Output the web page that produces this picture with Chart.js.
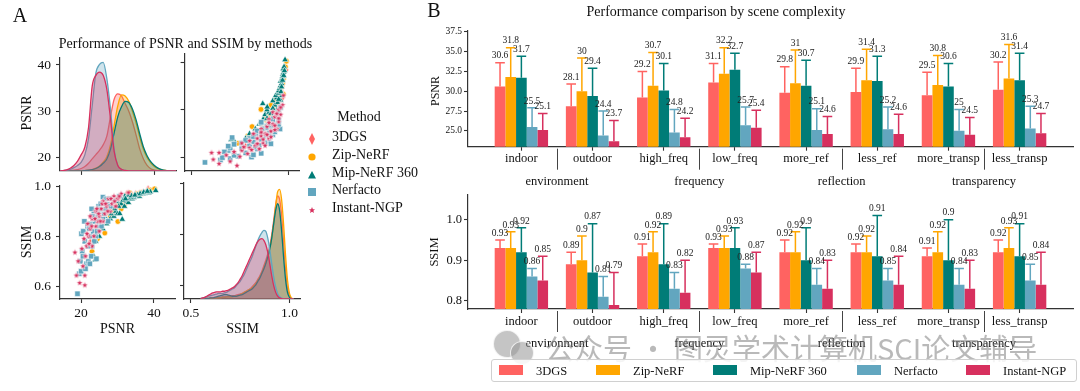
<!DOCTYPE html>
<html><head><meta charset="utf-8">
<script src="https://cdn.jsdelivr.net/npm/chart.js@4.4.0/dist/chart.umd.min.js"></script>
<style>
html,body{margin:0;padding:0;background:#fff;}
#root{position:relative;width:1080px;height:391px;overflow:hidden;font-family:"Liberation Serif","Times New Roman",serif;color:#111;}
canvas{position:absolute;}
.t{position:absolute;white-space:nowrap;line-height:1;}
#legB{position:absolute;border:1px solid #d0d0d0;border-radius:3px;background:rgba(255,255,255,0.85);}
.sw{position:absolute;width:24px;height:10px;}
#wm{position:absolute;left:0;top:0;width:1080px;height:391px;pointer-events:none;}
</style></head>
<body><div id="root"><div id="wm"></div></div>
<script>
// ---------- shared ----------
const methods = ['3DGS', 'Zip-NeRF', 'Mip-NeRF 360', 'Nerfacto', 'Instant-NGP'];
const colors = ['#FF6361', '#FFA600', '#007C77', '#62A6BF', '#D7305E'];

// ---------- Panel B data ----------
const categories = ['indoor', 'outdoor', 'high_freq', 'low_freq', 'more_ref', 'less_ref', 'more_transp', 'less_transp'];
const groups = ['environment', 'frequency', 'reflection', 'transparency'];
const psnr3DGS = [30.6, 28.1, 29.2, 31.1, 29.8, 29.9, 29.5, 30.2];
const psnrZip = [31.8, 30, 30.7, 32.2, 31, 31.4, 30.8, 31.6];
const psnrMip = [31.7, 29.4, 30.1, 32.7, 30.7, 31.3, 30.6, 31.4];
const psnrNerf = [25.5, 24.4, 24.8, 25.7, 25.1, 25.2, 25, 25.3];
const psnrInst = [25.1, 23.7, 24.2, 25.4, 24.6, 24.6, 24.5, 24.7];
const psnrErr3DGS = [3.0, 2.8, 3.3, 2.4, 3.3, 3.0, 2.9, 3.5];
const psnrErrZip = [3.7, 4.2, 4.2, 3.3, 4.2, 3.9, 3.7, 4.3];
const psnrErrMip = [2.7, 3.5, 3.4, 2.1, 3.2, 3.1, 2.9, 3.4];
const psnrErrNerf = [2.4, 3.1, 2.9, 2.3, 2.7, 2.8, 2.7, 2.8];
const psnrErrInst = [2.1, 2.6, 2.4, 2.2, 2.2, 2.5, 2.2, 2.5];
const ssim3DGS = [0.93, 0.89, 0.91, 0.93, 0.92, 0.92, 0.91, 0.92];
const ssimZip = [0.93, 0.9, 0.92, 0.93, 0.92, 0.92, 0.92, 0.93];
const ssimMip = [0.92, 0.87, 0.89, 0.93, 0.9, 0.91, 0.9, 0.91];
const ssimNerf = [0.86, 0.81, 0.83, 0.88, 0.84, 0.85, 0.84, 0.85];
const ssimInst = [0.85, 0.79, 0.82, 0.87, 0.83, 0.84, 0.83, 0.84];
const ssimErr3DGS = [0.02, 0.03, 0.03, 0.01, 0.03, 0.02, 0.02, 0.03];
const ssimErrZip = [0.04, 0.06, 0.05, 0.03, 0.05, 0.04, 0.05, 0.05];
const ssimErrMip = [0.06, 0.12, 0.10, 0.05, 0.08, 0.10, 0.10, 0.08];
const ssimErrNerf = [0.02, 0.05, 0.04, 0.01, 0.04, 0.03, 0.04, 0.04];
const ssimErrInst = [0.06, 0.08, 0.08, 0.05, 0.07, 0.07, 0.07, 0.08];
const psnrTicks = [25, 27.5, 30, 32.5, 35, 37.5];
const ssimTicks = [0.8, 0.9, 1.0];

// ---------- Panel A data ----------
const kdePsnrGrid = [14,15,16,17,18,19,20,21,22,23,24,25,26,27,28,29,30,31,32,33,34,35,36,37,38,39,40,41,42,43,44,45,46];
const kdePsnr3DGS = [0,0,0,0.003,0.006,0.012,0.022,0.04,0.07,0.11,0.15,0.19,0.24,0.32,0.5,0.66,0.71,0.69,0.62,0.55,0.45,0.33,0.2,0.11,0.05,0.02,0.008,0.002,0,0,0,0,0];
const kdePsnrZip = [0,0,0,0,0,0,0,0.003,0.006,0.012,0.025,0.045,0.08,0.13,0.24,0.42,0.6,0.7,0.69,0.64,0.55,0.44,0.31,0.2,0.125,0.075,0.04,0.02,0.01,0.004,0.001,0,0];
const kdePsnrMip = [0,0,0,0,0,0,0,0.003,0.006,0.012,0.022,0.04,0.07,0.11,0.2,0.35,0.5,0.59,0.64,0.63,0.57,0.47,0.34,0.22,0.14,0.085,0.05,0.025,0.012,0.005,0.002,0,0];
const kdePsnrNerf = [0,0.002,0.006,0.015,0.03,0.05,0.08,0.15,0.3,0.6,0.9,0.98,1.0,0.85,0.57,0.2,0.05,0.015,0.004,0,0,0,0,0,0,0,0,0,0,0,0,0,0];
const kdePsnrInst = [0,0.003,0.01,0.025,0.05,0.09,0.15,0.22,0.4,0.78,0.88,0.91,0.88,0.75,0.48,0.18,0.05,0.015,0.004,0,0,0,0,0,0,0,0,0,0,0,0,0,0];

const kdeSsimGrid = [0.55,0.56,0.57,0.58,0.59,0.60,0.61,0.62,0.63,0.64,0.65,0.66,0.67,0.68,0.69,0.70,0.71,0.72,0.73,0.74,0.75,0.76,0.77,0.78,0.79,0.80,0.81,0.82,0.83,0.84,0.85,0.86,0.87,0.88,0.89,0.90,0.91,0.92,0.93,0.94,0.95,0.96,0.97,0.98,0.99,1.00,1.01,1.02];
const kdeSsim3DGS = [0,0,0.005,0.005,0.005, 0.01,0.01,0.01,0.01,0.015, 0.015,0.02,0.02,0.02,0.025, 0.025,0.03,0.03,0.035,0.04, 0.045,0.05,0.06,0.07,0.08, 0.09,0.11,0.13,0.15,0.18, 0.21,0.25,0.3,0.35,0.41, 0.48,0.58,0.71,0.85,0.93, 0.9,0.76,0.52,0.27,0.1, 0.03,0.005,0];
const kdeSsimZip = [0,0,0,0.005,0.005, 0.005,0.005,0.01,0.01,0.01, 0.01,0.015,0.015,0.02,0.02, 0.02,0.02,0.025,0.025,0.03, 0.04,0.05,0.06,0.07,0.08, 0.09,0.1,0.12,0.14,0.17, 0.2,0.24,0.28,0.33,0.38, 0.45,0.55,0.68,0.84,0.97, 0.99,0.9,0.68,0.4,0.17, 0.05,0.01,0];
const kdeSsimMip = [0,0,0,0.005,0.005, 0.01,0.01,0.015,0.02,0.025, 0.03,0.035,0.04,0.04,0.035, 0.03,0.025,0.025,0.025,0.03, 0.035,0.04,0.05,0.06,0.07, 0.08,0.09,0.11,0.13,0.16, 0.19,0.23,0.27,0.32,0.38, 0.45,0.55,0.68,0.8,0.86, 0.8,0.62,0.38,0.18,0.06, 0.015,0,0];
const kdeSsimNerf = [0.005,0.01,0.015,0.02,0.025, 0.03,0.035,0.04,0.045,0.05, 0.05,0.05,0.055,0.06,0.07, 0.08,0.09,0.1,0.12,0.14, 0.16,0.19,0.22,0.26,0.3, 0.34,0.38,0.43,0.48,0.53, 0.57,0.6,0.62,0.61,0.55, 0.45,0.32,0.2,0.11,0.05, 0.02,0.008,0.003,0,0, 0,0,0];
const kdeSsimInst = [0.005,0.01,0.015,0.025,0.035, 0.045,0.055,0.06,0.065,0.065, 0.065,0.07,0.07,0.075,0.08, 0.09,0.1,0.11,0.13,0.15, 0.18,0.21,0.25,0.29,0.33, 0.37,0.41,0.45,0.49,0.52, 0.54,0.545,0.53,0.49,0.42, 0.32,0.21,0.12,0.06,0.025, 0.01,0.003,0,0,0, 0,0,0];

const ptPsnr3DGS = [21.0,22.5,24.0,25.5,26.0,26.5,27.0,27.5,28.5,29.0,29.5,30.0,30.5,31.0,31.5,32.0,32.5,33.0,34.0,35.0,36.0,37.0,38.4,39.0];
const ptSsim3DGS = [0.72,0.78,0.82,0.85,0.90,0.87,0.92,0.89,0.91,0.93,0.95,0.92,0.94,0.95,0.93,0.955,0.97,0.96,0.965,0.97,0.972,0.975,0.99,0.98];
const ptPsnrZip = [23.0,24.5,26.5,27.0,28.0,28.5,29.0,29.5,30.0,30.1,30.5,31.0,31.5,32.0,32.5,33.3,33.5,34.0,34.5,35.0,35.5,36.0,36.5,37.0,38.0,39.0,40.2];
const ptSsimZip = [0.74,0.79,0.813,0.86,0.88,0.91,0.90,0.94,0.93,0.859,0.92,0.91,0.94,0.93,0.95,0.974,0.96,0.955,0.96,0.965,0.97,0.968,0.975,0.972,0.978,0.985,0.99];
const ptPsnrMip = [22.0,23.5,23.8,24.0,25.0,26.0,26.5,27.0,27.5,28.0,28.5,29.0,29.5,30.0,30.0,30.6,31.0,31.3,31.9,32.0,32.5,33.0,33.0,33.5,34.0,34.5,35.1,35.5,36.0,36.5,37.0,37.5,37.9,38.6,39.0,40.5,25.5,27.2,28.2,29.2,30.3,31.5,32.2,33.8,34.8,36.2,37.2,38.2];
const ptSsimMip = [0.70,0.72,0.705,0.78,0.80,0.83,0.88,0.85,0.90,0.87,0.92,0.88,0.90,0.89,0.94,0.891,0.93,0.868,0.92,0.96,0.94,0.935,0.965,0.95,0.95,0.955,0.96,0.965,0.96,0.969,0.97,0.972,0.976,0.974,0.978,0.983,0.84,0.86,0.89,0.91,0.92,0.945,0.95,0.962,0.965,0.97,0.976,0.98];
const ptPsnrNerf = [19.0,19.5,20.0,19.8,20.3,20.1,20.6,21.0,21.5,22.0,22.4,22.8,23.0,22.5,21.8,22.6,23.3,23.8,24.2,24.0,24.5,25.0,25.6,25.2,26.0,26.5,27.4,27.2,28.0,28.8,29.5,30.5,24.8,23.5,26.0,27.0,20.5,21.2,21.9,22.2,23.1,23.6,24.4,24.9,25.4,26.3,26.8,27.8,20.9,22.9,24.6];
const ptSsimNerf = [0.57,0.65,0.66,0.70,0.74,0.81,0.82,0.78,0.69,0.70,0.69,0.72,0.76,0.80,0.84,0.85,0.82,0.86,0.71,0.80,0.88,0.84,0.84,0.90,0.87,0.91,0.86,0.93,0.92,0.94,0.95,0.96,0.92,0.90,0.957,0.95,0.72,0.67,0.76,0.83,0.88,0.78,0.82,0.86,0.93,0.89,0.91,0.95,0.86,0.91,0.90];
const ptPsnrInst = [18.3,18.7,19.6,21.0,21.0,20.5,21.2,21.5,20.8,22.0,21.8,22.5,23.0,22.5,23.5,24.0,24.5,25.0,25.5,24.0,26.0,26.5,27.0,26.0,27.5,28.0,28.5,29.0,30.0,31.0,29.5,23.0,25.0,33.0,19.2,20.2,21.6,22.2,22.9,23.8,24.3,25.3,25.8,26.7,27.3,28.2,29.2,30.5,24.8];
const ptSsimInst = [0.735,0.643,0.613,0.604,0.643,0.68,0.72,0.76,0.79,0.80,0.85,0.83,0.87,0.88,0.80,0.84,0.86,0.88,0.91,0.90,0.86,0.89,0.92,0.94,0.95,0.90,0.93,0.96,0.95,0.97,0.92,0.76,0.82,0.975,0.70,0.75,0.81,0.77,0.84,0.87,0.91,0.86,0.93,0.93,0.90,0.95,0.94,0.96,0.89];
const pairPsnrTicks = [20, 30, 40];
const pairPsnrXTicks = [20, 40];
const pairSsimTicks = [0.6, 0.8, 1.0];
const pairSsimXTicks = [0.5, 1.0];

// ---------- setup ----------
const SERIF = '"Liberation Serif","Times New Roman",serif';
Chart.defaults.font.family = SERIF;
Chart.defaults.color = '#111';
Chart.defaults.animation = false;
const root = document.getElementById('root');

function rgba(hex, a) {
  const n = parseInt(hex.slice(1), 16);
  return `rgba(${(n >> 16) & 255},${(n >> 8) & 255},${n & 255},${a})`;
}
function mk(left, top, w, h) {
  const c = document.createElement('canvas');
  c.width = w; c.height = h;
  Object.assign(c.style, {left: left + 'px', top: top + 'px', width: w + 'px', height: h + 'px'});
  root.insertBefore(c, document.getElementById('wm'));
  return c;
}
function txt(s, x, y, size, o = {}) {
  const d = document.createElement('div');
  d.className = 't'; d.textContent = s;
  d.style.fontSize = size + 'px';
  d.style.left = x + 'px'; d.style.top = y + 'px';
  const tx = o.align === 'left' ? '0' : o.align === 'right' ? '-100%' : '-50%';
  d.style.transform = `translate(${tx},-50%)` + (o.rot ? ` rotate(${o.rot}deg)` : '');
  if (o.color) d.style.color = o.color;
  if (o.family) d.style.fontFamily = o.family;
  (o.parent || root).appendChild(d);
  return d;
}
const fixSize = n => s => { if (s.isHorizontal()) s.height = n; else s.width = n; };
const setTicks = arr => s => { s.ticks = arr.map(v => ({value: v})); };
function axis(min, max, tickVals, size, showLabels, fontSize, fmt, pad) {
  return {
    type: 'linear', min, max, offset: false,
    afterBuildTicks: setTicks(tickVals),
    afterFit: fixSize(size),
    grid: {display: true, offset: false, drawOnChartArea: false, drawTicks: true, tickLength: 4, tickWidth: 1.1, tickColor: '#333'},
    border: {display: true, color: '#333', width: 1.2},
    ticks: {display: showLabels, font: {size: fontSize}, padding: pad === undefined ? 2 : pad, color: '#111', autoSkip: false, maxRotation: 0,
      callback: fmt || (v => String(v))}
  };
}
const baseOpts = (padding) => ({
  responsive: false, devicePixelRatio: 1, animation: false,
  layout: {padding},
  plugins: {legend: {display: false}, tooltip: {enabled: false}}
});

// marker images
function markerImg(kind, color, r) {
  const s = Math.ceil(2 * r + 3);
  const c = document.createElement('canvas'); c.width = s; c.height = s;
  const g = c.getContext('2d'); const m = s / 2;
  g.beginPath();
  if (kind === 'star') {
    for (let i = 0; i < 10; i++) {
      const a = -Math.PI / 2 + i * Math.PI / 5, rr = i % 2 ? r * 0.45 : r;
      g.lineTo(m + rr * Math.cos(a), m + rr * Math.sin(a));
    }
  } else if (kind === 'thin') {
    g.moveTo(m, m - r); g.lineTo(m + r * 0.55, m); g.lineTo(m, m + r); g.lineTo(m - r * 0.55, m);
  }
  g.closePath(); g.fillStyle = color; g.fill();
  g.strokeStyle = '#fff'; g.lineWidth = 0.6; g.stroke();
  return c;
}
const ptStyles = [markerImg('thin', colors[0], 4), 'circle', 'triangle', 'rect', markerImg('star', colors[4], 3.4)];
const ptRadius = [4, 2.8, 3.8, 3.8, 3.4];
const ptPsnr = [ptPsnr3DGS, ptPsnrZip, ptPsnrMip, ptPsnrNerf, ptPsnrInst];
const ptSsim = [ptSsim3DGS, ptSsimZip, ptSsimMip, ptSsimNerf, ptSsimInst];
const kdePsnr = [kdePsnr3DGS, kdePsnrZip, kdePsnrMip, kdePsnrNerf, kdePsnrInst];
const kdeSsim = [kdeSsim3DGS, kdeSsimZip, kdeSsimMip, kdeSsimNerf, kdeSsimInst];

function kdeSets(grid, vals) {
  return methods.map((m, i) => ({
    label: m, data: grid.map((x, k) => ({x, y: vals[i][k]})), yAxisID: 'yd',
    borderColor: colors[i], backgroundColor: rgba(colors[i], 0.3), fill: 'origin',
    pointRadius: 0, borderWidth: 1.3, cubicInterpolationMode: 'monotone', order: 4 - i
  }));
}
function scatterSets(xs, ys) {
  return methods.map((m, i) => ({
    label: m, data: xs[i].map((x, k) => ({x, y: ys[i][k]})),
    pointStyle: ptStyles[i], pointRadius: ptRadius[i], backgroundColor: colors[i],
    borderColor: '#fff', borderWidth: 0.6, order: 4 - i
  }));
}
const fmt1 = v => v.toFixed(1);

// ---------- Panel A charts ----------
new Chart(mk(0, 44, 180, 140), {
  type: 'line',
  data: {datasets: kdeSets(kdePsnrGrid, kdePsnr)},
  options: Object.assign(baseOpts({left: 0, top: 10, right: 4, bottom: 7}), {
    scales: {
      x: axis(14.2, 45.9, pairPsnrXTicks, 6, false, 13),
      y: axis(17.2, 41.7, pairPsnrTicks, 60, true, 13.5, null, 5),
      yd: {type: 'linear', display: false, min: 0, max: 1.048}
    }
  })
});
new Chart(mk(180, 44, 124, 140), {
  type: 'scatter',
  data: {datasets: scatterSets(ptSsim, ptPsnr)},
  options: Object.assign(baseOpts({left: 0, top: 10, right: 3.3, bottom: 7}), {
    scales: {
      x: axis(0.465, 1.057, pairSsimXTicks, 6, false, 13),
      y: axis(17.2, 41.7, pairPsnrTicks, 4, false, 13)
    }
  })
});
new Chart(mk(0, 172, 180, 170), {
  type: 'scatter',
  data: {datasets: scatterSets(ptPsnr, ptSsim)},
  options: Object.assign(baseOpts({left: 0, top: 10.7, right: 4, bottom: 21}), {
    scales: {
      x: axis(14.2, 45.9, pairPsnrXTicks, 22, true, 13.5),
      y: axis(0.549, 1.005, pairSsimTicks, 60, true, 13.5, fmt1, 5)
    }
  })
});
new Chart(mk(180, 172, 124, 170), {
  type: 'line',
  data: {datasets: kdeSets(kdeSsimGrid, kdeSsim)},
  options: Object.assign(baseOpts({left: 0, top: 10.7, right: 3.3, bottom: 21}), {
    scales: {
      x: axis(0.465, 1.057, pairSsimXTicks, 22, true, 13.5, fmt1),
      y: axis(0.549, 1.005, pairSsimTicks, 4, false, 13),
      yd: {type: 'linear', display: false, min: 0, max: 1.05}
    }
  })
});

// ---------- Panel B charts ----------
const barDecor = {
  id: 'barDecor',
  afterDatasetsDraw(chart, args, opts) {
    const {ctx} = chart; const xS = chart.scales.x, yS = chart.scales.y;
    const labels = [];
    ctx.save();
    chart.data.datasets.forEach((ds, di) => {
      chart.getDatasetMeta(di).data.forEach((bar, j) => {
        const v = ds.data[j].y, e = opts.errors[di][j];
        const yTop = yS.getPixelForValue(v + e);
        const half = bar.width * 0.45;
        ctx.strokeStyle = ds.backgroundColor; ctx.lineWidth = 1.5;
        ctx.beginPath();
        ctx.moveTo(bar.x, bar.y); ctx.lineTo(bar.x, yTop);
        ctx.moveTo(bar.x - half, yTop); ctx.lineTo(bar.x + half, yTop);
        ctx.stroke();
        labels.push([String(v), bar.x, yTop - 2]);
      });
    });
    ctx.fillStyle = '#222'; ctx.font = '9.5px ' + SERIF;
    ctx.textAlign = 'center'; ctx.textBaseline = 'bottom';
    labels.forEach(([s, x, y]) => ctx.fillText(s, x, y));
    const b = chart.chartArea.bottom;
    ctx.font = '12.5px ' + SERIF; ctx.fillStyle = '#111'; ctx.textBaseline = 'middle';
    ctx.strokeStyle = '#444'; ctx.lineWidth = 1;
    groups.forEach((g, gi) => {
      const xm = (xS.getPixelForValue(2 * gi) + xS.getPixelForValue(2 * gi + 1)) / 2;
      ctx.beginPath(); ctx.moveTo(Math.round(xm) + 0.5, b + 2); ctx.lineTo(Math.round(xm) + 0.5, b + 23); ctx.stroke();
      ctx.fillText(g, xm, b + 35);
    });
    ctx.restore();
  }
};
function barChart(canvas, series, errors, yMin, yMax, yTicks, yFont, padding) {
  return new Chart(canvas, {
    type: 'bar',
    data: {datasets: methods.map((m, i) => ({
      label: m, data: series[i].map((v, k) => ({x: k, y: v})),
      backgroundColor: colors[i], borderWidth: 0, categoryPercentage: 0.75, barPercentage: 1.0
    }))},
    options: Object.assign(baseOpts(padding), {
      plugins: {legend: {display: false}, tooltip: {enabled: false}, barDecor: {errors}},
      scales: {
        x: axis(-0.75, categories.length - 0.25, categories.map((c, k) => k), 20, true, 12.5, v => categories[v], 1),
        y: axis(yMin, yMax, yTicks, 48, true, yFont, fmt1, 2)
      }
    }),
    plugins: [barDecor]
  });
}
barChart(mk(420, 20, 660, 175),
  [psnr3DGS, psnrZip, psnrMip, psnrNerf, psnrInst],
  [psnrErr3DGS, psnrErrZip, psnrErrMip, psnrErrNerf, psnrErrInst],
  23.0, 37.6, psnrTicks, 9.5, {left: 0, top: 11, right: 7, bottom: 28.3});
barChart(mk(420, 185, 660, 170),
  [ssim3DGS, ssimZip, ssimMip, ssimNerf, ssimInst],
  [ssimErr3DGS, ssimErrZip, ssimErrMip, ssimErrNerf, ssimErrInst],
  0.78, 1.062, ssimTicks, 12.5, {left: 0, top: 9, right: 7, bottom: 26});

// ---------- text ----------
txt('A', 20, 15, 20);
txt('B', 434, 10, 20);
txt('Performance of PSNR and SSIM by methods', 185.5, 44, 14);
txt('PSNR', 27, 113, 14, {rot: -90});
txt('SSIM', 27, 242, 14, {rot: -90});
txt('PSNR', 117.5, 329, 14);
txt('SSIM', 242.5, 329, 14);
txt('Performance comparison by scene complexity', 716, 12, 14);
txt('PSNR', 435, 91, 12, {rot: -90});
txt('SSIM', 434, 252, 12.5, {rot: -90});

// Panel A legend
txt('Method', 359, 117, 14);
const legY = [136.7, 154.5, 172.5, 190.3, 208.3];
const svgMarks = [
  '<polygon points="5,0 8,6 5,12 2,6" fill="' + colors[0] + '"/>',
  '<circle cx="5" cy="6" r="3.6" fill="' + colors[1] + '"/>',
  '<polygon points="5,2 9,9.5 1,9.5" fill="' + colors[2] + '"/>',
  '<rect x="1" y="2" width="8" height="8" fill="' + colors[3] + '"/>',
  '<polygon points="5,3 5.9,5.2 8,5.3 6.4,6.7 7,9 5,7.7 3,9 3.6,6.7 2,5.3 4.1,5.2" fill="' + colors[4] + '"/>'
];
methods.forEach((m, i) => {
  const s = document.createElement('div');
  s.style.cssText = `position:absolute;left:307px;top:${legY[i] - 6}px;width:10px;height:12px;`;
  s.innerHTML = `<svg width="10" height="12" viewBox="0 0 10 12">${svgMarks[i]}</svg>`;
  root.appendChild(s);
  txt(m, 332, legY[i], 14, {align: 'left'});
});

// Panel B legend
const legB = document.createElement('div'); legB.id = 'legB';
Object.assign(legB.style, {left: '491px', top: '359px', width: '584px', height: '21px'});
root.appendChild(legB);
const swX = [7, 104, 221, 365, 474];
methods.forEach((m, i) => {
  const sw = document.createElement('div'); sw.className = 'sw';
  Object.assign(sw.style, {left: swX[i] + 'px', top: '5px', background: colors[i]});
  legB.appendChild(sw);
  txt(m, swX[i] + 37, 11, 12.5, {align: 'left', parent: legB});
});

// watermark overlay
const wm = document.getElementById('wm');
[[506, 343, 13], [521, 352, 11]].forEach(([x, y, r]) => {
  const c = document.createElement('div');
  c.style.cssText = `position:absolute;left:${x - r}px;top:${y - r}px;width:${2 * r}px;height:${2 * r}px;border-radius:50%;background:rgba(150,150,150,0.55);border:1.5px solid rgba(255,255,255,0.8);`;
  wm.appendChild(c);
});
txt('公众号 · 图灵学术计算机SCI论文辅导', 545, 347, 29, {align: 'left', color: 'rgba(128,128,128,0.55)', family: '"Noto Sans CJK SC", sans-serif', parent: wm});
</script>
</body></html>
